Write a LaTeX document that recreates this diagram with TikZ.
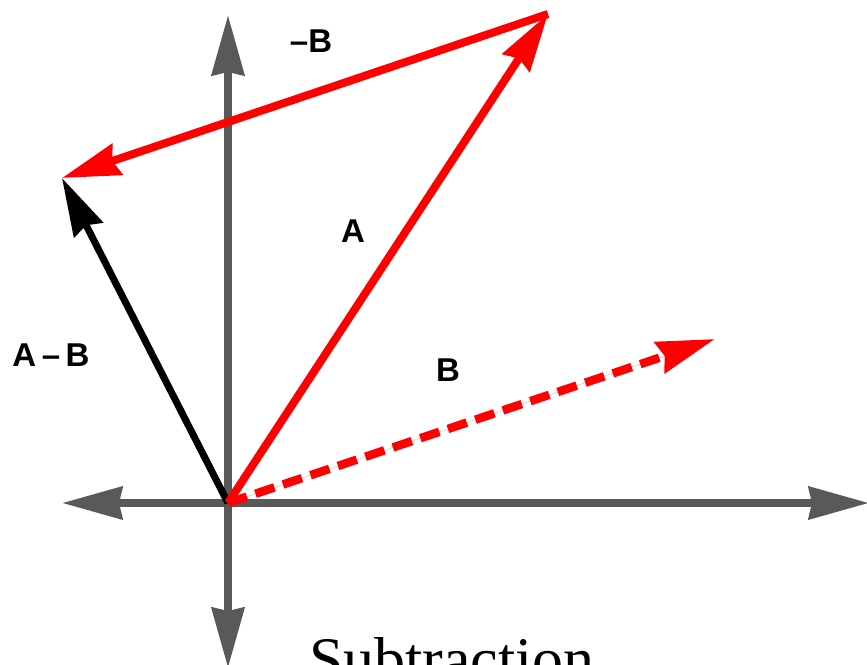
\documentclass[tikz,border=0pt]{standalone}
\usepackage{fontspec}
\setmainfont{Liberation Serif}
\setsansfont{Liberation Sans}
\usetikzlibrary{arrows.meta}
\definecolor{axisgray}{HTML}{595959}
\definecolor{vecred}{HTML}{FF0000}
\tikzset{
  axisline/.style={draw=axisgray, line width=8pt, -{Stealth[length=60pt,width=32pt,inset=3pt]}},
  vecarrow/.style={line width=8pt, -{Stealth[length=58pt,width=32pt,inset=5pt]}},
  redvec/.style={vecarrow, draw=vecred, fill=vecred},
  blackvec/.style={vecarrow, line width=7pt, draw=black, fill=black},
  dashvec/.style={redvec, line width=8.5pt, dash pattern=on 20pt off 9pt},
  veclabel/.style={font=\sffamily\bfseries\fontsize{33}{33}\selectfont, inner sep=0pt},
  caption/.style={font=\rmfamily\fontsize{62}{62}\selectfont, inner sep=0pt, anchor=base}
}
\begin{document}
\begin{tikzpicture}[x=1pt,y=-1pt]
\useasboundingbox (0,0) rectangle (867,664);
\fill[white] (0,0) rectangle (867,664);
% points
\coordinate (O) at (228,503);
\coordinate (Atip) at (548,14);
\coordinate (AmB) at (62,178);
\coordinate (Btip) at (715,339);
\coordinate (ytop) at (228,15);
\coordinate (ybot) at (228,668);
\coordinate (xleft) at (62,503);
\coordinate (xright) at (869,503);
% axes
\draw[axisline] (O) -- (ytop);
\draw[axisline] (O) -- (ybot);
\draw[axisline] (O) -- (xleft);
\draw[axisline] (O) -- (xright);
% vectors
\draw[blackvec] (O) -- (AmB);
\draw[dashvec] (O) -- (Btip);
\draw[redvec] (Atip) -- (AmB);
\draw[redvec] (O) -- (Atip);
% labels
\node[veclabel] (lnegB) at (311,41) {--B};
\node[veclabel] (lA) at (353,231) {A};
\node[veclabel] (lAmB) at (51,355) {A\,--\,B};
\node[veclabel] (lB) at (448,370) {B};
\node[caption] (cap) at (452,680) {Subtraction};
\end{tikzpicture}
\end{document}
